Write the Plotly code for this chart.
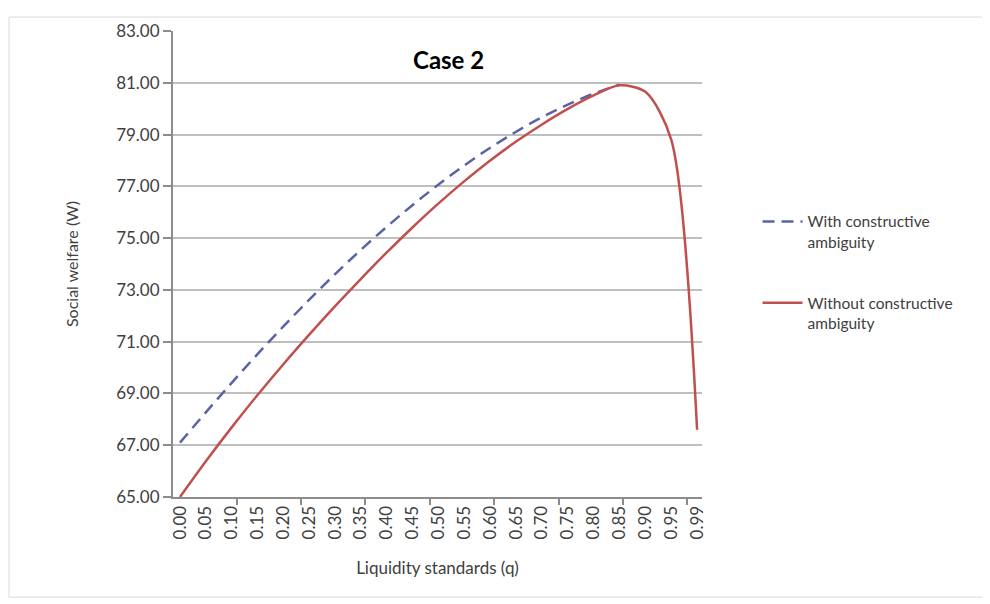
import plotly.graph_objects as go

q_labels = ["0.00", "0.05", "0.10", "0.15", "0.20", "0.25", "0.30", "0.35", "0.40", "0.45",
            "0.50", "0.55", "0.60", "0.65", "0.70", "0.75", "0.80", "0.85", "0.90", "0.95", "0.99"]

with_ca = [67.10, 68.27, 69.41, 70.52, 71.59, 72.62, 73.61, 74.55, 75.44, 76.28,
           77.07, 77.81, 78.49, 79.11, 79.67, 80.16, 80.58, 80.93, None, None, None]

without_ca = [65.00, 66.38, 67.69, 68.94, 70.13, 71.27, 72.37, 73.43, 74.45, 75.42,
              76.34, 77.20, 78.00, 78.73, 79.39, 79.99, 80.51, 80.90, 80.65, 78.80, 67.60]

y_ticks = [65, 67, 69, 71, 73, 75, 77, 79, 81, 83]

idx = list(range(len(q_labels)))
FONT = "Lato, 'Liberation Sans', sans-serif"
TXT = "#404040"
GRID = "#bfbfbf"
AX = "#8c8c8c"

fig = go.Figure()
fig.add_trace(go.Scatter(
    x=idx, y=with_ca, mode="lines", name="With constructive<br>ambiguity",
    line=dict(color="#5a63a6", width=2.5, dash="12px,7px", shape="spline", smoothing=1),
    legendgroup="a", connectgaps=False))
fig.add_trace(go.Scatter(
    x=idx, y=without_ca, mode="lines", name="Without constructive<br>ambiguity",
    line=dict(color="#c0504d", width=2.5, shape="spline", smoothing=0.8),
    legendgroup="b"))

fig.update_layout(
    width=990, height=604,
    margin=dict(l=165, r=296, t=15, b=115),
    paper_bgcolor="white", plot_bgcolor="white",
    font=dict(family=FONT, size=13, color=TXT),
    showlegend=True,
    legend=dict(x=1.105, y=0.627, xanchor="left", yanchor="top",
                font=dict(size=15.5, color=TXT), tracegroupgap=38,
                itemwidth=40, valign="top", bgcolor="rgba(0,0,0,0)"),
    annotations=[dict(text="<b>Case 2</b>", x=0.52, y=0.938, xref="paper", yref="paper",
                      xanchor="center", yanchor="middle",
                      showarrow=False, font=dict(size=24, color="#000000", family=FONT))],
    shapes=[dict(type="rect", xref="paper", yref="paper",
                 x0=-0.31, x1=1.535, y0=-0.215, y1=1.03,
                 line=dict(color="#d9d9d9", width=1))],
)

fig.update_xaxes(
    range=[-0.27, 20.19],
    tickmode="array", tickvals=idx, ticktext=q_labels, tickangle=-90,
    ticks="", showgrid=False, zeroline=False,
    showline=True, linecolor=AX, linewidth=2,
    tickfont=dict(size=17, color=TXT),
    minor=dict(tickmode="linear", tick0=-0.3, dtick=2.49, ticks="outside",
               ticklen=6, tickcolor=AX, tickwidth=1.5, showgrid=False),
    title=dict(text="Liquidity standards (q)", font=dict(size=17, color=TXT), standoff=24),
)
fig.update_yaxes(
    range=[65, 83], tickmode="array", tickvals=y_ticks,
    ticktext=[f"{v:.2f}" for v in y_ticks],
    ticks="outside", ticklen=8, tickcolor=AX, tickwidth=1.5,
    showgrid=True, gridcolor=GRID, gridwidth=1.5, zeroline=False,
    showline=True, linecolor=AX, linewidth=2,
    tickfont=dict(size=17, color=TXT),
    title=dict(text="Social welfare (W)", font=dict(size=16, color=TXT), standoff=34),
)

fig.write_html("out.html")
